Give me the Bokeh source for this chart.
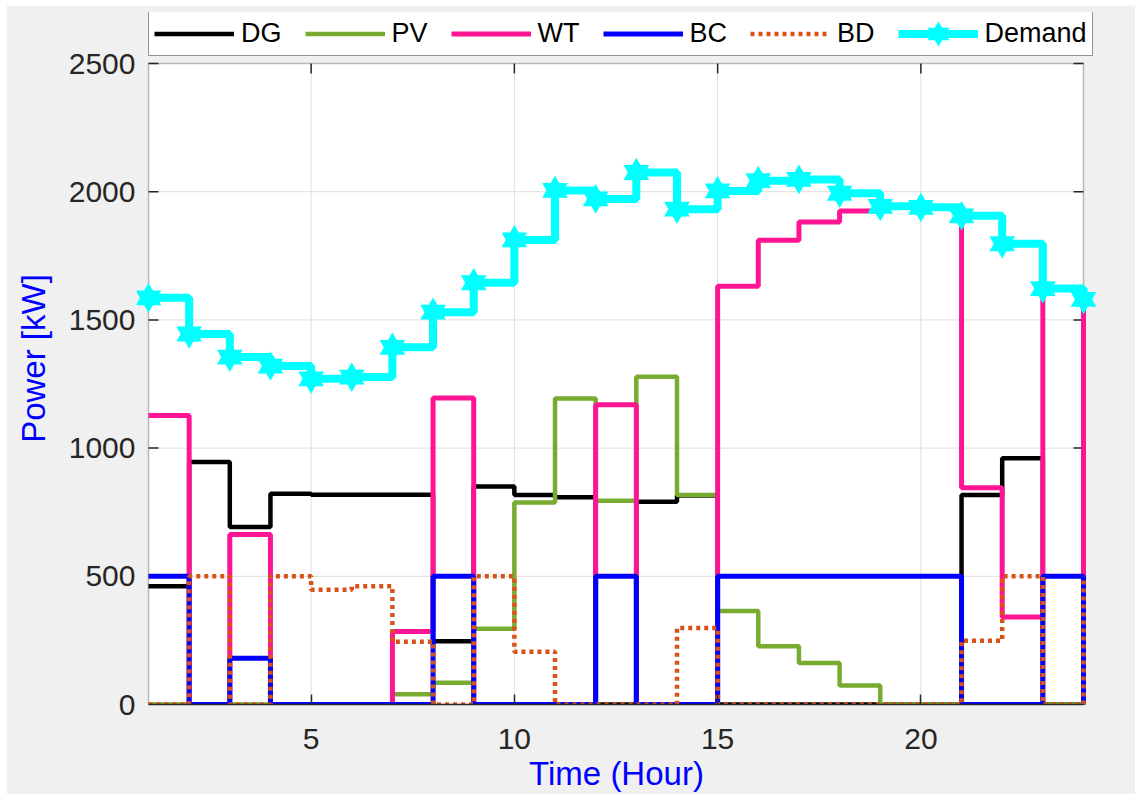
from bokeh.plotting import figure
from bokeh.models import (Range1d, FixedTicker, Legend, LegendItem, BoxAnnotation)
from bokeh.embed import file_html
from bokeh.resources import INLINE

# ---------------- data (kW per hour) ----------------
hours = list(range(1, 25))
demand = [1586, 1445, 1355, 1320, 1270, 1277, 1393, 1530, 1645, 1812, 2005, 1972,
          2075, 1932, 2003, 2043, 2048, 1994, 1943, 1939, 1906, 1797, 1622, 1580]
dg = [461, 946, 692, 822, 818, 818, 818, 247, 850, 817, 808, 0,
      791, 815, 0, 0, 0, 0, 0, 0, 817, 960, 0, 1080]
pv = [0, 0, 0, 0, 0, 0, 40, 85, 295, 788, 1193, 795,
      1278, 817, 365, 227, 162, 74, 0, 0, 0, 0, 0, 0]
wt = [1127, 0, 663, 0, 0, 0, 285, 1195, 0, 0, 0, 1169,
      0, 0, 1631, 1811, 1882, 1925, 1943, 1939, 845, 341, 1620, 0]
bc = [500, 0, 180, 0, 0, 0, 0, 500, 0, 0, 0, 500,
      0, 0, 500, 500, 500, 500, 500, 500, 0, 0, 500, 0]
bd = [0, 500, 0, 500, 448, 461, 245, 0, 500, 206, 0, 0,
      0, 298, 0, 0, 0, 0, 0, 0, 249, 500, 0, 500]
x_ticks = [5, 10, 15, 20]
y_ticks = [0, 500, 1000, 1500, 2000, 2500]
labels = ["DG", "PV", "WT", "BC", "BD", "Demand"]

X0, X1, Y0, Y1 = 1, 24, 0, 2500   # axes limits

FONT = "Liberation Sans"
AX = "#262626"

# ---------------- layout (figure pixels) ----------------
FIG_W, FIG_H = 1129, 789
FR_L, FR_R, FR_T, FR_B = 130, 1090, 7, 699      # plotting frame (incl. legend strip)
AX_L, AX_R, AX_T = 142, 1077, 58                 # axes box edges (x=1, x=24, y=2500)
ppx = (AX_R - AX_L) / (X1 - X0)
ppy = (FR_B - AX_T) / (Y1 - Y0)
xr = Range1d(X0 - (AX_L - FR_L) / ppx, X1 + (FR_R - AX_R) / ppx)
yr = Range1d(Y0, Y1 + (AX_T - FR_T) / ppy)

p = figure(width=FIG_W, height=FIG_H, x_range=xr, y_range=yr,
           output_backend="svg", toolbar_location=None,
           min_border_left=FR_L, min_border_right=FIG_W - FR_R,
           min_border_top=FR_T, min_border_bottom=FIG_H - FR_B)
p.margin = (5, 0, 0, 6)
p.border_fill_color = "#F0F0F0"
p.background_fill_color = "#F0F0F0"
p.outline_line_color = None
p.grid.visible = False

# white axes box with its dark outline
p.add_layout(BoxAnnotation(left=X0, right=X1, bottom=Y0, top=Y1,
                           fill_color="white", fill_alpha=1.0,
                           line_color=AX, line_width=1.5, level="underlay"))

# axes
xa, ya = p.xaxis[0], p.yaxis[0]
for ax in (xa, ya):
    ax.major_label_text_font = FONT
    ax.major_label_text_font_size = "30px"
    ax.major_label_text_color = AX
    ax.axis_label_text_font = FONT
    ax.axis_label_text_font_style = "normal"
    ax.axis_label_text_color = "#0000FF"
    ax.minor_tick_line_color = None
    ax.major_tick_out = 0
xa.ticker = FixedTicker(ticks=x_ticks)
ya.ticker = FixedTicker(ticks=y_ticks)
xa.bounds = (X0, X1)
xa.major_tick_in = 10
xa.major_tick_line_color = AX
xa.major_tick_line_width = 1.5
xa.axis_line_color = AX
xa.axis_line_width = 1.5
ya.axis_line_color = None
ya.major_tick_line_color = None
xa.axis_label = "Time (Hour)"
ya.axis_label = "Power [kW]"
xa.axis_label_text_font_size = "33px"
ya.axis_label_text_font_size = "33px"
xa.major_label_standoff = 24
xa.axis_label_standoff = 3
ya.major_label_standoff = 1
ya.axis_label_standoff = 14

# grid lines (interior ticks only)
gx = [t for t in x_ticks if X0 < t < X1]
gy = [t for t in y_ticks if Y0 < t < Y1]
p.segment(x0=gx, y0=[Y0] * len(gx), x1=gx, y1=[Y1] * len(gx),
          line_color="#DEDEDE", line_width=1)
p.segment(x0=[X0] * len(gy), y0=gy, x1=[X1] * len(gy), y1=gy,
          line_color="#DEDEDE", line_width=1)

# inward ticks on the left, right and top edges of the box
tx = 10 / ppx
ty = 10 / ppy
p.segment(x0=[X0] * len(y_ticks), y0=y_ticks, x1=[X0 + tx] * len(y_ticks), y1=y_ticks,
          line_color=AX, line_width=1.5)
p.segment(x0=[X1] * len(y_ticks), y0=y_ticks, x1=[X1 - tx] * len(y_ticks), y1=y_ticks,
          line_color=AX, line_width=1.5)
p.segment(x0=x_ticks, y0=[Y1] * len(x_ticks), x1=x_ticks, y1=[Y1 - ty] * len(x_ticks),
          line_color=AX, line_width=1.5)

# series
r_dg = p.step(hours, dg, mode="after", line_color="black", line_width=4.5)
r_pv = p.step(hours, pv, mode="after", line_color="#77AC30", line_width=4.5)
r_wt = p.step(hours, wt, mode="after", line_color="#FF1493", line_width=5)
r_bc = p.step(hours, bc, mode="after", line_color="#0000FF", line_width=5)
r_bd = p.step(hours, bd, mode="after", line_color="#D95319", line_width=4.5,
              line_dash="4 4")
r_dm = p.step(hours, demand, mode="after", line_color="#00FFFF", line_width=8)
# six-pointed star markers = upright + inverted triangle
r_t1 = p.scatter(hours, demand, marker="triangle", size=17, fill_color="#00FFFF",
                 line_color="#00FFFF", line_width=5, line_join="miter")
r_t2 = p.scatter(hours, demand, marker="inverted_triangle", size=17,
                 fill_color="#00FFFF", line_color="#00FFFF", line_width=5,
                 line_join="miter")

items = [LegendItem(label=labels[0], renderers=[r_dg]),
         LegendItem(label=labels[1], renderers=[r_pv]),
         LegendItem(label=labels[2], renderers=[r_wt]),
         LegendItem(label=labels[3], renderers=[r_bc]),
         LegendItem(label=labels[4], renderers=[r_bd]),
         LegendItem(label=labels[5], renderers=[r_dm, r_t1, r_t2])]
legend = Legend(items=items, orientation="horizontal", location=(12, 648),
                padding=5, margin=0, spacing=23, glyph_width=80, glyph_height=33,
                label_height=33, label_standoff=7, label_text_font=FONT,
                label_text_font_size="27px", label_text_color="black",
                border_line_color=AX, border_line_width=1.2,
                background_fill_color="white", background_fill_alpha=1.0)
p.add_layout(legend, "center")

open("out.html", "w").write(file_html(p, INLINE))
